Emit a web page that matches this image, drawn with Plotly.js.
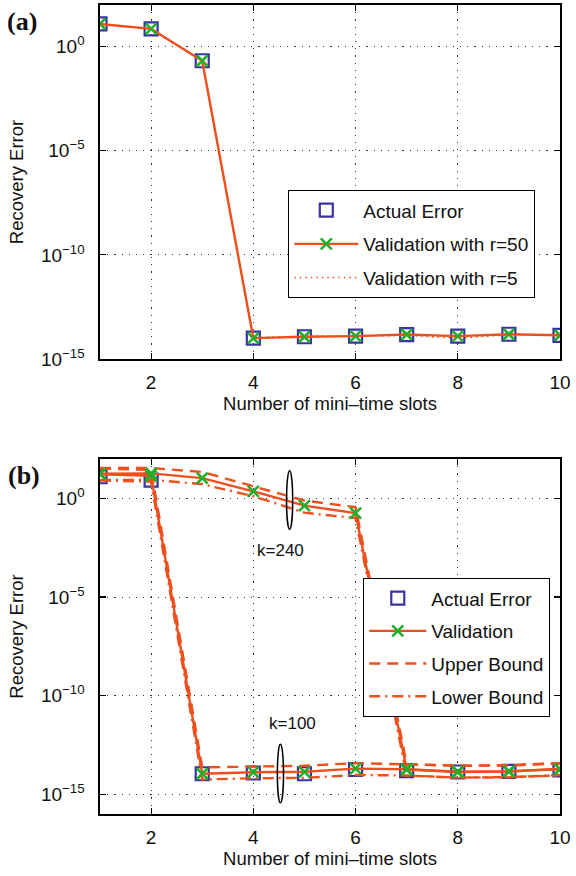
<!DOCTYPE html>
<html>
<head>
<meta charset="utf-8">
<script src="https://cdn.plot.ly/plotly-3.0.1.min.js"></script>
<style>html,body{margin:0;padding:0;background:#fff;}#chart{width:576px;height:876px;}</style>
</head>
<body>
<div id="chart"></div>
<script>
// ---------- data ----------
const xSlots = [1, 2, 3, 4, 5, 6, 7, 8, 9, 10];
const xTickVals = [2, 4, 6, 8, 10];
const yTickVals = [1e-15, 1e-10, 1e-5, 1];
const yTickText = ['10<sup>\u221215</sup>', '10<sup>\u221210</sup>', '10<sup>\u22125</sup>', '10<sup>0</sup>'];

// panel (a)
const aActual = [12.3, 7.1, 0.21, 1.0e-14, 1.17e-14, 1.26e-14, 1.5e-14, 1.26e-14, 1.55e-14, 1.38e-14];
const aValR50 = [12.3, 7.1, 0.21, 1.0e-14, 1.17e-14, 1.26e-14, 1.5e-14, 1.26e-14, 1.55e-14, 1.38e-14];
const aValR5  = [12.0, 7.4, 0.20, 1.05e-14, 1.25e-14, 1.3e-14, 1.35e-14, 1.0e-14, 1.45e-14, 1.4e-14];

// panel (b)
const bActual   = [12.6, 8.5, 1.1e-14, 1.2e-14, 1.1e-14, 1.8e-14, 1.6e-14, 1.35e-14, 1.45e-14, 1.7e-14];
const bVal240   = [17.8, 18.6, 10.7, 2.29, 0.43, 0.18, 1.8e-14, 1.35e-14, 1.4e-14, 1.9e-14];
const bUp240    = [35, 35, 22, 4.2, 0.78, 0.36, 3.4e-14, 2.8e-14, 2.9e-14, 3.7e-14];
const bLow240   = [8.5, 8.9, 5.3, 1.3, 0.19, 0.10, 8.8e-15, 7.0e-15, 7.2e-15, 9.5e-15];
const bVal100   = [17.0, 14.0, 1.1e-14, 1.32e-14, 1.38e-14, 2.0e-14, 1.85e-14, 1.4e-14, 1.5e-14, 1.9e-14];
const bUp100    = [33, 28, 2.3e-14, 2.6e-14, 2.8e-14, 3.8e-14, 3.4e-14, 2.8e-14, 3.0e-14, 3.8e-14];
const bLow100   = [8.2, 7.2, 5.6e-15, 6.5e-15, 6.8e-15, 9.5e-15, 9.0e-15, 7.0e-15, 7.5e-15, 9.0e-15];

// annotation labels
const kLabels = ['k=240', 'k=100'];

// ---------- styles ----------
const ORANGE = '#EF4F1C';
const GREEN = '#1FB02A';
const NAVY = '#3A32A0';
const FONT = 'Liberation Sans, Arial, Helvetica, sans-serif';

const sq = {symbol: 'square-open', size: 13, color: NAVY, line: {width: 2.2, color: NAVY}};
const xm = {symbol: 'x-thin-open', size: 11, color: GREEN, line: {width: 2.6, color: GREEN}};

const traces = [
  // (a)
  {x: xSlots, y: aActual, xaxis: 'x', yaxis: 'y', mode: 'markers', marker: sq,
   name: 'Actual Error', legend: 'legend', legendgroup: 'a1'},
  {x: xSlots, y: aValR50, xaxis: 'x', yaxis: 'y', mode: 'lines+markers',
   line: {color: ORANGE, width: 2.4}, marker: xm,
   name: 'Validation with r=50', legend: 'legend', legendgroup: 'a2'},
  {x: xSlots, y: aValR5, xaxis: 'x', yaxis: 'y', mode: 'lines',
   line: {color: ORANGE, width: 1.6, dash: '1.5px,4px'},
   name: 'Validation with r=5', legend: 'legend', legendgroup: 'a3'},
  // (b)
  {x: xSlots, y: bActual, xaxis: 'x2', yaxis: 'y2', mode: 'markers', marker: sq,
   name: 'Actual Error', legend: 'legend2', legendgroup: 'b1', legendrank: 1},
  {x: xSlots, y: bUp240, xaxis: 'x2', yaxis: 'y2', mode: 'lines',
   line: {color: ORANGE, width: 2.4, dash: '11px,7px'},
   name: 'Upper Bound', legend: 'legend2', legendgroup: 'b3', legendrank: 3},
  {x: xSlots, y: bLow240, xaxis: 'x2', yaxis: 'y2', mode: 'lines',
   line: {color: ORANGE, width: 2.4, dash: '11px,5px,2px,5px'},
   name: 'Lower Bound', legend: 'legend2', legendgroup: 'b4', legendrank: 4},
  {x: xSlots, y: bUp100, xaxis: 'x2', yaxis: 'y2', mode: 'lines',
   line: {color: ORANGE, width: 2.4, dash: '11px,7px'},
   name: 'Upper Bound', legend: 'legend2', legendgroup: 'b3', legendrank: 3, showlegend: false},
  {x: xSlots, y: bLow100, xaxis: 'x2', yaxis: 'y2', mode: 'lines',
   line: {color: ORANGE, width: 2.4, dash: '11px,5px,2px,5px'},
   name: 'Lower Bound', legend: 'legend2', legendgroup: 'b4', legendrank: 4, showlegend: false},
  {x: xSlots, y: bVal240, xaxis: 'x2', yaxis: 'y2', mode: 'lines+markers',
   line: {color: ORANGE, width: 2.4}, marker: xm,
   name: 'Validation', legend: 'legend2', legendgroup: 'b2', legendrank: 2},
  {x: xSlots, y: bVal100, xaxis: 'x2', yaxis: 'y2', mode: 'lines+markers',
   line: {color: ORANGE, width: 2.4}, marker: xm,
   name: 'Validation', legend: 'legend2', legendgroup: 'b2', legendrank: 2, showlegend: false}
];

const gridStyle = {showgrid: true, gridcolor: '#333', gridwidth: 1, griddash: '1.2px,6px'};

function xAxis(domainAnchor) {
  return Object.assign({
    range: [1, 10], tickvals: xTickVals, ticks: 'inside', ticklen: 6, tickwidth: 1.2, tickcolor: '#000',
    showline: true, linecolor: '#000', linewidth: 1.6, mirror: 'ticks', zeroline: false,
    anchor: domainAnchor, ticklabelstandoff: 6,
    tickfont: {family: FONT, size: 19, color: '#111'},
    title: {text: 'Number of mini\u2013time slots', font: {family: FONT, size: 18.5, color: '#111'}, standoff: 3}
  }, gridStyle);
}
function yAxis(rng, dom, anchor) {
  return Object.assign({
    type: 'log', range: rng, domain: dom, anchor: anchor,
    tickvals: yTickVals, ticktext: yTickText, ticks: 'inside', ticklen: 6, tickwidth: 1.2, tickcolor: '#000',
    showline: true, linecolor: '#000', linewidth: 1.6, mirror: 'ticks', zeroline: false,
    ticklabelstandoff: 10,
    tickfont: {family: FONT, size: 19, color: '#111'},
    title: {text: 'Recovery Error', font: {family: FONT, size: 18.5, color: '#111'}, standoff: 12}
  }, gridStyle);
}

const layout = {
  width: 576, height: 876,
  margin: {l: 100, r: 16, t: 5, b: 62},
  paper_bgcolor: '#fff', plot_bgcolor: '#fff',
  showlegend: true,
  xaxis: xAxis('y'),
  yaxis: yAxis([-15, 2], [0.5624, 1], 'x'),
  xaxis2: xAxis('y2'),
  yaxis2: yAxis([-16, 2], [0, 0.4388], 'x2'),
  legend: {x: 0.4087, y: 0.7713, xanchor: 'left', yanchor: 'top', bgcolor: '#fff',
           bordercolor: '#000', borderwidth: 1.3, itemwidth: 64, tracegroupgap: 6,
           font: {family: FONT, size: 19, color: '#111'}},
  legend2: {x: 0.5717, y: 0.2917, xanchor: 'left', yanchor: 'top', bgcolor: '#fff',
            bordercolor: '#000', borderwidth: 1.3, itemwidth: 57, tracegroupgap: 5,
            traceorder: 'grouped',
            font: {family: FONT, size: 19, color: '#111'}},
  shapes: [
    {type: 'circle', xref: 'x2', yref: 'y2', x0: 4.65, x1: 4.77, y0: 0.0275, y1: 25.1,
     line: {color: '#000', width: 1.5}},
    {type: 'circle', xref: 'x2', yref: 'y2', x0: 4.47, x1: 4.59, y0: 3.7e-16, y1: 3.4e-13,
     line: {color: '#000', width: 1.5}}
  ],
  annotations: [
    {text: '<b>(a)</b>', xref: 'paper', yref: 'paper', x: -0.17, y: 0.980, xanchor: 'center', yanchor: 'middle',
     showarrow: false, font: {family: 'Liberation Serif, Times New Roman, serif', size: 26, color: '#111'}},
    {text: '<b>(b)</b>', xref: 'paper', yref: 'paper', x: -0.165, y: 0.4178, xanchor: 'center', yanchor: 'middle',
     showarrow: false, font: {family: 'Liberation Serif, Times New Roman, serif', size: 26, color: '#111'}},
    {text: kLabels[0], xref: 'x2', yref: 'y2', x: 4.54, y: -2.62, showarrow: false,
     font: {family: FONT, size: 17, color: '#111'}},
    {text: kLabels[1], xref: 'x2', yref: 'y2', x: 4.77, y: -11.41, showarrow: false,
     font: {family: FONT, size: 17, color: '#111'}}
  ]
};

Plotly.newPlot('chart', traces, layout, {staticPlot: true, displayModeBar: false});
</script>
</body>
</html>
